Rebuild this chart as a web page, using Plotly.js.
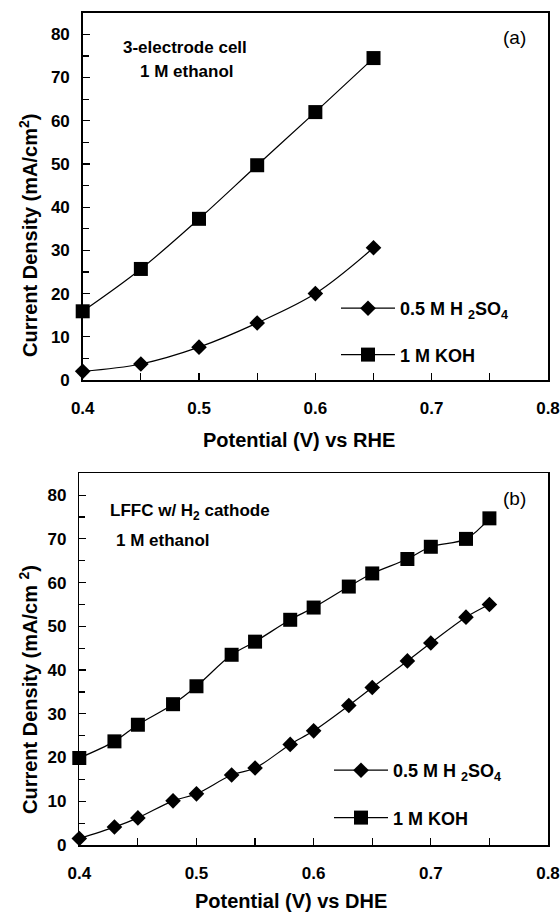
<!DOCTYPE html>
<html><head><meta charset="utf-8">
<script src="https://cdn.plot.ly/plotly-3.0.1.min.js"></script>
<style>html,body{margin:0;padding:0;background:#fff}</style>
</head><body><div id="chart" style="width:560px;height:912px"></div>
<script>
// Panel (a): 3-electrode cell, 1 M ethanol
const potentialRHE = [0.40, 0.45, 0.50, 0.55, 0.60, 0.65];
const h2so4A = [2.0, 3.7, 7.6, 13.2, 20.0, 30.6];
const kohA = [15.9, 25.7, 37.3, 49.7, 62.0, 74.5];
// Panel (b): LFFC with H2 cathode, 1 M ethanol
const potentialDHE = [0.40, 0.43, 0.45, 0.48, 0.50, 0.53, 0.55, 0.58, 0.60, 0.63, 0.65, 0.68, 0.70, 0.73, 0.75];
const h2so4B = [1.5, 4.1, 6.2, 10.1, 11.7, 16.0, 17.6, 23.0, 26.1, 31.9, 36.0, 42.1, 46.2, 52.1, 55.0];
const kohB = [19.9, 23.7, 27.5, 32.2, 36.3, 43.5, 46.5, 51.5, 54.3, 59.1, 62.1, 65.4, 68.2, 70.0, 74.7];
// Ticks
const xTicks = [0.4, 0.5, 0.6, 0.7, 0.8];
const xTickLabels = ['0.4', '0.5', '0.6', '0.7', '0.8'];
const yTicks = [0, 10, 20, 30, 40, 50, 60, 70, 80];
const seriesNames = ['0.5 M H <sub>2</sub>SO<sub>4</sub>', '1 M KOH'];

const FONT = 'Liberation Sans, Arial, Helvetica, sans-serif';
const W = 560, H = 912;
const px = v => v / W, py = v => 1 - v / H;

function series(x, y, name, sym, size, xa, ya, leg, grp) {
  return {
    x: x, y: y, name: name, type: 'scatter', mode: 'lines+markers',
    xaxis: xa, yaxis: ya, legend: leg, legendgroup: grp,
    line: {color: '#000', width: 1.2, shape: 'spline', smoothing: 1},
    marker: {symbol: sym, size: size, color: '#000', line: {width: 0}},
    cliponaxis: false
  };
}

const traces = [
  series(potentialRHE, h2so4A, seriesNames[0], 'diamond', 12, 'x', 'y', 'legend', 'a1'),
  series(potentialRHE, kohA, seriesNames[1], 'square', 14, 'x', 'y', 'legend', 'a2'),
  series(potentialDHE, h2so4B, seriesNames[0], 'diamond', 12, 'x2', 'y2', 'legend2', 'b1'),
  series(potentialDHE, kohB, seriesNames[1], 'square', 14, 'x2', 'y2', 'legend2', 'b2')
];

function xAxis(domain, anchor) {
  return {
    domain: domain, anchor: anchor, range: [0.4, 0.8],
    tickvals: xTicks, ticktext: xTickLabels,
    showline: true, mirror: true, linecolor: '#000', linewidth: 1.5,
    ticks: 'inside', ticklen: 7, tickwidth: 1.2, tickcolor: '#000',
    minor: {ticks: 'inside', dtick: 0.05, tick0: 0.4, ticklen: 7, tickwidth: 1.2, tickcolor: '#000', showgrid: false},
    showgrid: false, zeroline: false, automargin: false,
    ticklabelstandoff: 12, ticklabeloverflow: 'allow',
    tickfont: {family: FONT, size: 17, color: '#000', weight: 'bold'}
  };
}
function yAxis(domain, anchor) {
  return {
    domain: domain, anchor: anchor, range: [0, 85],
    tickvals: yTicks,
    showline: true, mirror: true, linecolor: '#000', linewidth: 1.5,
    ticks: 'inside', ticklen: 7, tickwidth: 1.2, tickcolor: '#000',
    minor: {ticks: 'inside', dtick: 5, tick0: 0, ticklen: 6, tickwidth: 1.2, tickcolor: '#000', showgrid: false},
    showgrid: false, zeroline: false, automargin: false,
    ticklabelstandoff: 8, ticklabeloverflow: 'allow',
    tickfont: {family: FONT, size: 17, color: '#000', weight: 'bold'}
  };
}

function legendBox(left, top, gap) {
  return {
    x: px(left), y: py(top), xanchor: 'left', yanchor: 'top',
    xref: 'paper', yref: 'paper',
    bgcolor: 'rgba(0,0,0,0)', borderwidth: 0,
    traceorder: 'grouped', tracegroupgap: gap, itemwidth: 54,
    font: {family: FONT, size: 18, color: '#000', weight: 'bold'}
  };
}

function ann(text, x, y, opts) {
  return Object.assign({
    text: text, x: px(x), y: py(y), xref: 'paper', yref: 'paper',
    xanchor: 'center', yanchor: 'middle', showarrow: false,
    font: {family: FONT, size: 17, color: '#000', weight: 'bold'}
  }, opts || {});
}
const titleFont = {family: FONT, size: 20, color: '#000', weight: 'bold'};

const layout = {
  width: W, height: H,
  margin: {l: 0, r: 0, t: 0, b: 0},
  paper_bgcolor: '#fff', plot_bgcolor: '#fff',
  showlegend: true,
  xaxis: xAxis([px(82.7), px(548)], 'y'),
  yaxis: yAxis([py(380), py(12.7)], 'x'),
  xaxis2: xAxis([px(79.3), px(548)], 'y2'),
  yaxis2: yAxis([py(845), py(473.3)], 'x2'),
  legend: legendBox(336, 290, 20),
  legend2: legendBox(329, 752, 21),
  annotations: [
    ann('3-electrode cell', 185, 48),
    ann('1 M ethanol', 187, 71),
    ann('(a)', 514, 37, {font: {family: FONT, size: 19, color: '#000'}}),
    ann('LFFC w/ H<sub>2</sub> cathode', 108, 512, {xanchor: 'left'}),
    ann('1 M ethanol', 114, 540, {xanchor: 'left'}),
    ann('(b)', 514, 498, {font: {family: FONT, size: 19, color: '#000'}}),
    ann('Potential (V) vs RHE', 299, 440, {font: titleFont}),
    ann('Potential (V) vs DHE', 291, 901, {font: titleFont}),
    ann('Current Density (mA/cm<sup>2</sup>)', 28, 236, {font: titleFont, textangle: -90}),
    ann('Current Density (mA/cm <sup>2</sup>)', 28, 690, {font: titleFont, textangle: -90})
  ]
};

Plotly.newPlot('chart', traces, layout, {displayModeBar: false, responsive: false, staticPlot: true});
</script>
</body></html>
